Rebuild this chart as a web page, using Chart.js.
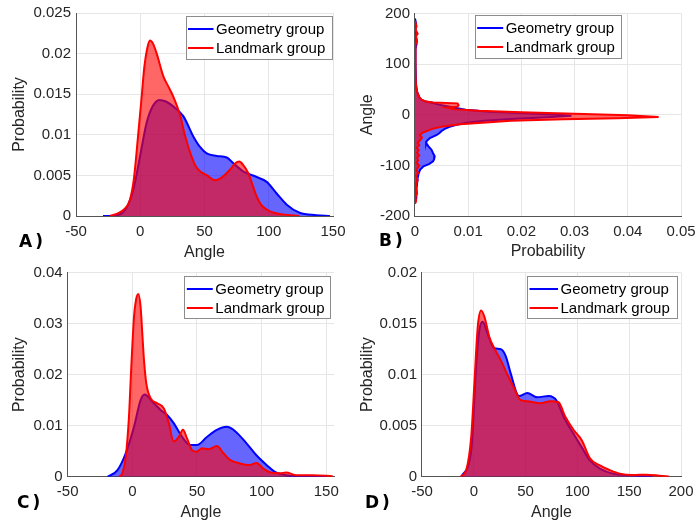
<!DOCTYPE html>
<html><head><meta charset="utf-8">
<script src="https://cdn.jsdelivr.net/npm/chart.js@4.4.1/dist/chart.umd.min.js"></script>
<style>
html,body{margin:0;padding:0;background:#fff;}
#wrap{position:relative;width:696px;height:524px;overflow:hidden;}
canvas{position:absolute;}
</style></head><body>
<div id="wrap">
<canvas id="cA" width="348" height="262" style="left:0;top:0"></canvas>
<canvas id="cB" width="348" height="262" style="left:348px;top:0"></canvas>
<canvas id="cC" width="348" height="262" style="left:0;top:262px"></canvas>
<canvas id="cD" width="348" height="262" style="left:348px;top:262px"></canvas>
</div>
<script>
// ---------- DATA ----------
const seriesNames = ['Geometry group', 'Landmark group'];
const panelLetters = ['A)', 'B)', 'C)', 'D)'];

// Panel A (x: angle, y: probability)
const aGeoAngle = [-29, -18, -10, -5, 0, 5, 10, 15, 20, 25.7, 33.5, 41.3, 46.5, 51.7, 59.5, 67.3, 72.4, 80, 90.6, 98.4, 106, 114, 124, 137, 147.6];
const aGeoProb  = [0, 0.0001, 0.0012, 0.0035, 0.0075, 0.0115, 0.0136, 0.0143, 0.0141, 0.0135, 0.0123, 0.0098, 0.0085, 0.0077, 0.0074, 0.0072, 0.0065, 0.0055, 0.0048, 0.0042, 0.0028, 0.0014, 0.0004, 0.0001, 0];
const aLanAngle = [-23.5, -18, -12, -8, -5, -1.5, 1, 3.2, 5.5, 7.6, 10, 12.8, 18, 22, 25.7, 31, 35, 40, 43, 46.5, 52, 58.2, 63, 69.8, 74, 77, 80, 84, 87, 90.6, 94, 98.4, 104, 111, 124];
const aLanProb  = [0, 0.0003, 0.0009, 0.002, 0.0045, 0.0102, 0.0145, 0.0184, 0.0207, 0.0216, 0.0212, 0.02, 0.0172, 0.0159, 0.0147, 0.0124, 0.0098, 0.0073, 0.0062, 0.0055, 0.005, 0.0044, 0.0047, 0.0057, 0.0065, 0.0067, 0.0063, 0.0053, 0.004, 0.0024, 0.0014, 0.0008, 0.0004, 0.0002, 0];

// Panel B (x: probability, y: angle)
const bGeoAngle = [190, 180, 170, 150, 140, 130, 100, 60, 45, 35, 30, 26, 24, 20, 15, 10, 6, 3, 0, -2, -5, -8, -12, -16, -20, -24, -28, -32, -36, -40, -46, -52, -56, -62, -69, -76, -82, -88, -92, -97, -102, -108, -115, -125, -135, -145, -155, -165, -174];
const bGeoProb  = [0, 0.0002, 0.0001, 0.0002, 0.0003, 0.0001, 0.0001, 0.0002, 0.0004, 0.0008, 0.0012, 0.002, 0.003, 0.0045, 0.007, 0.0095, 0.014, 0.021, 0.027, 0.0294, 0.025, 0.019, 0.013, 0.0097, 0.0078, 0.0065, 0.0056, 0.005, 0.0046, 0.0041, 0.0028, 0.0022, 0.0021, 0.0025, 0.0031, 0.0034, 0.0037, 0.0036, 0.0034, 0.0027, 0.0016, 0.001, 0.0007, 0.0005, 0.0004, 0.0003, 0.0003, 0.0002, 0];
const bLanAngle = [185, 175, 168, 160, 155, 145, 140, 120, 80, 55, 45, 35, 30, 26, 24, 22.5, 19, 16, 14, 11, 8, 5, 2, -1, -4.5, -7, -9, -12, -15, -19, -23, -27, -30, -35, -40, -45, -50, -55, -60, -65, -70, -75, -80, -85, -90, -95, -100, -105, -110, -115, -120, -130, -135, -145, -155, -162, -170, -176];
const bLanProb  = [0, 0.0003, 0.0001, 0.0005, 0.0002, 0.0004, 0.0001, 0.0001, 0.0001, 0.0002, 0.0004, 0.0008, 0.0012, 0.002, 0.0035, 0.008, 0.0082, 0.008, 0.006, 0.0075, 0.012, 0.02, 0.03, 0.04, 0.0458, 0.038, 0.028, 0.018, 0.014, 0.0085, 0.0053, 0.0035, 0.0028, 0.0015, 0.0009, 0.0013, 0.001, 0.0005, 0.0008, 0.0003, 0.0007, 0.0004, 0.0008, 0.0004, 0.0006, 0.0003, 0.0008, 0.0005, 0.0003, 0.0006, 0.0002, 0.0005, 0.0002, 0.0002, 0.0004, 0.0001, 0.0002, 0];

// Panel C
const cGeoAngle = [-19, -11.5, -5.1, 1.3, 6.4, 9.5, 16.7, 21.8, 26.9, 32, 38.5, 44.9, 50, 57.7, 65.4, 73, 78.2, 88.5, 96, 103.8, 110, 119, 129.5, 150];
const cGeoProb  = [0, 0.0013, 0.0046, 0.0098, 0.015, 0.0161, 0.0144, 0.0131, 0.0121, 0.0105, 0.0078, 0.0062, 0.0062, 0.0078, 0.0092, 0.0098, 0.0092, 0.0065, 0.0042, 0.0023, 0.001, 0.0003, 0.0001, 0];
const cLanAngle = [-10.3, -7.7, -5.1, -2.6, -0.8, 1.3, 2.8, 4.6, 6.4, 7.7, 9, 10.8, 14.1, 19.2, 24.4, 28.2, 32, 35.9, 39.2, 42.3, 46.2, 50, 53.8, 59, 65.4, 70.5, 75.6, 83.3, 91, 96, 101.3, 107.7, 114, 119, 127, 139.7, 155];
const cLanProb  = [0, 0.0007, 0.0039, 0.0118, 0.0216, 0.0314, 0.0346, 0.0358, 0.0333, 0.0281, 0.0229, 0.0183, 0.0154, 0.0144, 0.0134, 0.0105, 0.0069, 0.0078, 0.0092, 0.0075, 0.0052, 0.0049, 0.0056, 0.0054, 0.006, 0.0046, 0.0033, 0.0026, 0.0023, 0.0027, 0.0016, 0.0008, 0.0007, 0.0008, 0.0003, 0.0003, 0.0001];

// Panel D
const dGeoAngle = [-12, -2.5, 2.2, 5.4, 8.6, 13.4, 19.7, 26.1, 30.9, 35.7, 43.6, 51.6, 61.1, 72.3, 80.3, 86.6, 96.2, 104.1, 112.1, 121.7, 134.4, 150.3, 172.6];
const dGeoProb  = [0, 0.0026, 0.0108, 0.0144, 0.0152, 0.014, 0.0126, 0.0125, 0.0118, 0.0101, 0.0079, 0.0082, 0.0078, 0.0079, 0.0074, 0.0059, 0.0042, 0.0029, 0.0016, 0.0008, 0.0003, 0.00013, 0];
const dLanAngle = [-12.7, -7.3, -2.5, 0.6, 3.8, 7, 10.2, 15, 19.7, 26.1, 32.5, 38.9, 45.2, 51.6, 64.3, 73.9, 81.8, 88.2, 96.2, 104.1, 112.1, 121.7, 131.2, 140.8, 153.5, 166.2, 179, 188.5];
const dLanProb  = [0, 0.00065, 0.0039, 0.0092, 0.0147, 0.0163, 0.0157, 0.0137, 0.0126, 0.0114, 0.01, 0.0087, 0.0075, 0.0074, 0.0072, 0.0074, 0.0073, 0.0059, 0.0046, 0.0036, 0.0018, 0.0011, 0.00065, 0.0003, 0.00016, 0.0002, 0.0001, 0];

// ---------- STYLE ----------
Chart.defaults.font.family = '"Liberation Sans", Arial, Helvetica, sans-serif';
Chart.defaults.color = '#262626';
const BLUE = '#0000ff', RED = '#ff0000';
const BLUE_F = 'rgba(0,0,255,0.6)', RED_F = 'rgba(255,0,0,0.6)';
const TITLE_SIZE = 16, TICK_SIZE = 15, LEG_SIZE = 15;
const HALF_TITLE = TITLE_SIZE * 1.2 / 2;

function fmt(v) { return String(Math.round(v * 1e6) / 1e6); }
function zip(xs, ys) { return xs.map((x, i) => ({ x: x, y: ys[i] })); }

function buildPanel(p) {
  const ox = p.origin[0], oy = p.origin[1];
  const cw = 348, ch = 262;
  const padLeft = p.yTitleX - HALF_TITLE - ox;
  const yAxisW = p.area.l - p.yTitleX + HALF_TITLE;
  const xAxisH = p.xTitleY + HALF_TITLE - p.area.b;
  const padBottom = (oy + ch) - (p.xTitleY + HALF_TITLE);
  const padTop = p.area.t - oy;
  const padRight = (ox + cw) - p.area.r;

  const common = (min, max, step, title, isX, tickPad) => ({
    type: 'linear', min: min, max: max,
    title: { display: true, text: title, padding: 0, font: { size: TITLE_SIZE }, color: '#262626' },
    ticks: { stepSize: step, includeBounds: false, autoSkip: false, maxRotation: 0, minRotation: 0,
             padding: tickPad, font: { size: TICK_SIZE }, color: '#262626', callback: v => fmt(v) },
    grid: { color: '#e6e6e6', lineWidth: 1, drawTicks: false },
    border: { display: true, color: '#555555', width: 1 },
    afterFit: isX
      ? (s) => { s.height = xAxisH; s.paddingLeft = 0; s.paddingRight = 0; }
      : (s) => { s.width = yAxisW; s.paddingTop = 0; s.paddingBottom = 0; }
  });

  const decor = {
    id: 'decor' + p.canvas,
    afterDraw(chart) {
      const ctx = chart.ctx;
      ctx.save();
      const lg = p.legend;
      const lx = lg.x - ox, ly = lg.y - oy;
      ctx.fillStyle = '#ffffff';
      ctx.fillRect(lx, ly, lg.w, lg.h);
      ctx.strokeStyle = '#8c8c8c';
      ctx.lineWidth = 1;
      ctx.strokeRect(Math.round(lx) + 0.5, Math.round(ly) + 0.5, Math.round(lg.w), Math.round(lg.h));
      const rows = [[BLUE, seriesNames[0]], [RED, seriesNames[1]]];
      ctx.font = LEG_SIZE + 'px "Liberation Sans", Arial, sans-serif';
      ctx.textBaseline = 'middle';
      ctx.textAlign = 'left';
      rows.forEach((r, i) => {
        const yy = ly + 13 + i * 19;
        ctx.strokeStyle = r[0];
        ctx.lineWidth = 2;
        ctx.beginPath();
        ctx.moveTo(lx + 2.5, yy);
        ctx.lineTo(lx + 2.5 + lg.line, yy);
        ctx.stroke();
        ctx.fillStyle = '#000000';
        ctx.fillText(r[1], lx + lg.line + 5, yy + 0.5);
      });
      ctx.font = 'bold 17px "DejaVu Sans", sans-serif';
      try { ctx.letterSpacing = '3px'; } catch (e) {}
      ctx.fillStyle = '#000000';
      ctx.textBaseline = 'middle';
      ctx.fillText(p.letter, p.labelPos[0] - ox, p.labelPos[1] - oy);
      ctx.restore();
    }
  };

  const horiz = p.horizontal;
  const mk = (data, color, fillc, order) => ({
    data: data, borderColor: color, backgroundColor: fillc, borderWidth: 2,
    pointRadius: 0, pointHoverRadius: 0, fill: 'origin', order: order,
    tension: horiz ? 0 : 0.4, cubicInterpolationMode: horiz ? 'default' : 'monotone'
  });

  new Chart(document.getElementById(p.canvas), {
    type: 'line',
    data: { datasets: [mk(p.geo, BLUE, BLUE_F, 2), mk(p.lan, RED, RED_F, 1)] },
    options: {
      responsive: false, animation: false, devicePixelRatio: 1,
      indexAxis: horiz ? 'y' : 'x',
      layout: { padding: { left: padLeft, top: padTop, right: padRight, bottom: padBottom } },
      plugins: { legend: { display: false }, tooltip: { enabled: false } },
      events: [],
      scales: {
        x: common(p.x[0], p.x[1], p.x[2], p.xTitle, true, p.xTickPad),
        y: common(p.y[0], p.y[1], p.y[2], p.yTitle, false, 5)
      }
    },
    plugins: [decor]
  });
}

buildPanel({
  canvas: 'cA', letter: panelLetters[0], origin: [0, 0],
  area: { l: 76, t: 13, r: 333, b: 216 }, yTitleX: 19.5, xTitleY: 253, xTickPad: 7,
  x: [-50, 150, 50], y: [0, 0.025, 0.005], xTitle: 'Angle', yTitle: 'Probability',
  geo: zip(aGeoAngle, aGeoProb), lan: zip(aLanAngle, aLanProb),
  legend: { x: 185.5, y: 16, w: 146, h: 42.5, line: 25.5 }, labelPos: [19, 243]
});
buildPanel({
  canvas: 'cB', letter: panelLetters[1], origin: [348, 0], horizontal: true,
  area: { l: 415, t: 13.5, r: 681, b: 216 }, yTitleX: 367.5, xTitleY: 252, xTickPad: 7,
  x: [0, 0.05, 0.01], y: [-200, 200, 100], xTitle: 'Probability', yTitle: 'Angle',
  geo: zip(bGeoProb, bGeoAngle), lan: zip(bLanProb, bLanAngle),
  legend: { x: 474.7, y: 15, w: 146, h: 42.5, line: 26 }, labelPos: [379, 242]
});
buildPanel({
  canvas: 'cC', letter: panelLetters[2], origin: [0, 262],
  area: { l: 67.7, t: 272.7, r: 334, b: 476.7 }, yTitleX: 19.5, xTitleY: 513, xTickPad: 6.5,
  x: [-50, 156, 50], y: [0, 0.04, 0.01], xTitle: 'Angle', yTitle: 'Probability',
  geo: zip(cGeoAngle, cGeoProb), lan: zip(cLanAngle, cLanProb),
  legend: { x: 184.3, y: 276, w: 146.4, h: 42, line: 26 }, labelPos: [17, 504]
});
buildPanel({
  canvas: 'cD', letter: panelLetters[3], origin: [348, 262],
  area: { l: 422, t: 272.7, r: 681, b: 476.7 }, yTitleX: 367.5, xTitleY: 513, xTickPad: 6.5,
  x: [-50, 200, 50], y: [0, 0.02, 0.005], xTitle: 'Angle', yTitle: 'Probability',
  geo: zip(dGeoAngle, dGeoProb), lan: zip(dLanAngle, dLanProb),
  legend: { x: 527, y: 276, w: 150, h: 42, line: 28.5 }, labelPos: [365, 504]
});
</script>
</body></html>
